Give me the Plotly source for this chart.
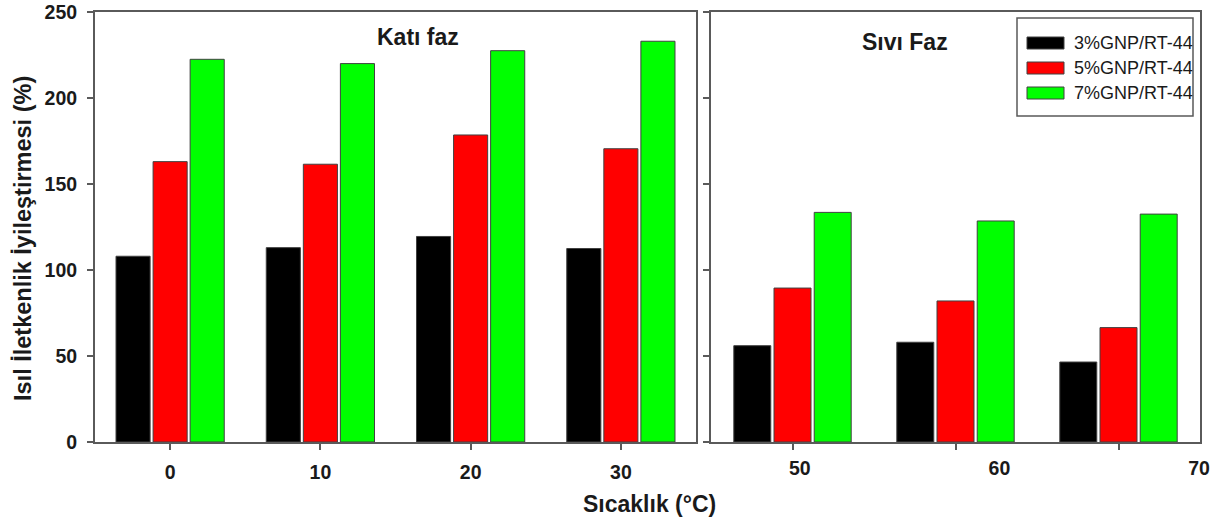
import plotly.graph_objects as go

# ---------------- data ----------------
series_names = ["3%GNP/RT-44", "5%GNP/RT-44", "7%GNP/RT-44"]
series_colors = ["#000000", "#ff0000", "#00ff00"]

solid_temps = ["0", "10", "20", "30"]
liquid_temps = ["50", "60", "70"]

solid_3 = [108, 113, 119.5, 112.5]
solid_5 = [163, 161.5, 178.5, 170.5]
solid_7 = [222.5, 220, 227.5, 233]

liquid_3 = [56, 58, 46.5]
liquid_5 = [89.5, 82, 66.5]
liquid_7 = [133.5, 128.5, 132.5]

y_ticks = [0, 50, 100, 150, 200, 250]
liquid_tick_labels = [50, 60, 70]

solid_title = "Katı faz"
liquid_title = "Sıvı Faz"
x_title = "Sıcaklık (°C)"
y_title = "Isıl İletkenlik İyileştirmesi (%)"

# ---------------- layout constants ----------------
W, H = 1227, 522
L, R, T, B = 95, 27, 12, 80
PW, PH = W - L - R, H - T - B
FONT = "Liberation Sans, Arial, sans-serif"
LINE = "#5a5a5a"
TXT = "#1a1a1a"


def px_x(px):
    return (px - L) / PW


def px_y(py):
    return (H - B - py) / PH


fig = go.Figure()

solid_series = [solid_3, solid_5, solid_7]
liquid_series = [liquid_3, liquid_5, liquid_7]
for name, color, vals in zip(series_names, series_colors, solid_series):
    fig.add_trace(go.Bar(x=solid_temps, y=vals, name=name,
                         marker=dict(color=color, line=dict(color="#404040", width=1)),
                         xaxis="x", yaxis="y", showlegend=False))
for name, color, vals in zip(series_names, series_colors, liquid_series):
    fig.add_trace(go.Bar(x=liquid_temps, y=vals, name=name,
                         marker=dict(color=color, line=dict(color="#404040", width=1)),
                         xaxis="x2", yaxis="y2", showlegend=False))
# carrier for the label-only axis of the right panel
fig.add_trace(go.Scatter(x=[], y=[], xaxis="x3", yaxis="y2", showlegend=False, hoverinfo="skip"))

tickfont = dict(family=FONT, size=19.5, color=TXT, weight="bold")
common_x = dict(showgrid=False, zeroline=False, showline=True, linecolor=LINE, linewidth=2, mirror=True,
                ticks="outside", ticklen=6, tickwidth=2, tickcolor=LINE, tickfont=tickfont,
                ticklabelstandoff=6, automargin=False)
common_y = dict(range=[0, 250], tickvals=y_ticks, showgrid=False, zeroline=False, showline=True, linecolor=LINE,
                linewidth=2, mirror=True, ticks="outside", ticklen=6, tickwidth=2, tickcolor=LINE,
                automargin=False)

d_left = [0, px_x(696)]
d_right = [px_x(711), 1]

fig.update_layout(
    width=W, height=H,
    margin=dict(l=L, r=R, t=T, b=B, autoexpand=False),
    paper_bgcolor="white", plot_bgcolor="white",
    barmode="group", bargap=0.26, bargroupgap=0.08,
    font=dict(family=FONT),
    xaxis=dict(type="category", range=[-0.5, 3.5], domain=d_left, anchor="y", **common_x),
    xaxis2=dict(type="category", range=[-0.5, 2.5], domain=d_right, anchor="y2", showticklabels=False, **common_x),
    xaxis3=dict(overlaying="x2", anchor="y2", range=[45.55, 70.05], tickvals=liquid_tick_labels,
                showgrid=False, zeroline=False, showline=False, ticks="", tickfont=tickfont,
                ticklabelstandoff=12, automargin=False),
    yaxis=dict(anchor="x", tickfont=tickfont, ticklabelstandoff=6, **common_y),
    yaxis2=dict(anchor="x2", showticklabels=False, **common_y),
)

annos = [
    dict(text=solid_title, x=px_x(418), y=px_y(37), angle=0, size=23),
    dict(text=liquid_title, x=px_x(905), y=px_y(42), angle=0, size=23),
    dict(text=x_title, x=px_x(649), y=px_y(504), angle=0, size=23),
    dict(text=y_title, x=px_x(23), y=px_y(239), angle=-90, size=23.5),
]
for a in annos:
    fig.add_annotation(text=a["text"], x=a["x"], y=a["y"], xref="paper", yref="paper", showarrow=False,
                       xanchor="center", yanchor="middle", textangle=a["angle"],
                       font=dict(family=FONT, size=a["size"], color=TXT, weight="bold"))

# legend box (drawn to match the original's wide swatches)
fig.add_shape(type="rect", xref="paper", yref="paper", x0=px_x(1017), x1=px_x(1193), y0=px_y(116), y1=px_y(18),
              line=dict(color=LINE, width=1.5), fillcolor="white", layer="above")
for i, (name, color) in enumerate(zip(series_names, series_colors)):
    cy = 43 + 25 * i
    fig.add_shape(type="rect", xref="paper", yref="paper", x0=px_x(1027), x1=px_x(1064),
                  y0=px_y(cy + 6), y1=px_y(cy - 6), line=dict(color="#404040", width=1),
                  fillcolor=color, layer="above")
    fig.add_annotation(text=name, x=px_x(1072), y=px_y(cy), xref="paper", yref="paper", showarrow=False,
                       xanchor="left", yanchor="middle", font=dict(family=FONT, size=18, color=TXT))

fig.write_html("out.html")
